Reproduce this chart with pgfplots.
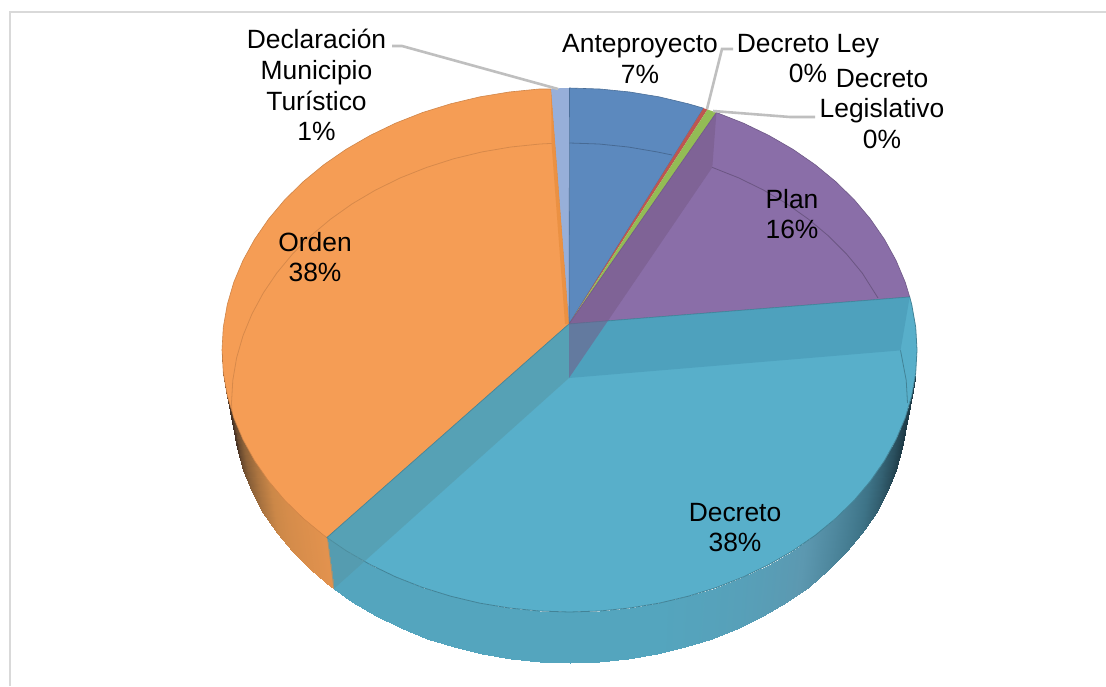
\documentclass[border=0pt]{standalone}
\usepackage{fontspec}
\setmainfont{Liberation Sans}
\usepackage{pgfplots}
\pgfplotsset{compat=1.18}
\definecolor{cAnte}{RGB}{92,137,190}
\definecolor{cRed}{RGB}{190,85,80}
\definecolor{cGreen}{RGB}{147,188,85}
\definecolor{cPlan}{RGB}{138,110,168}
\definecolor{cDecreto}{RGB}{88,175,202}
\definecolor{cOrden}{RGB}{245,157,85}
\definecolor{cDecl}{RGB}{151,175,217}
\definecolor{cLeader}{RGB}{191,191,191}
\definecolor{cFrame}{RGB}{217,217,217}
\pgfplotsset{
  colormap={tealrim}{rgb255=(30,58,70) rgb255=(62,116,136) rgb255=(92,152,176) rgb255=(84,165,190)},
  colormap={orangerim}{rgb255=(58,42,34) rgb255=(138,96,56) rgb255=(204,136,72) rgb255=(226,146,78)},
}
\newcommand{\lab}[3]{\node[align=center,inner sep=0pt,font=\fontsize{13.2}{15.4}\selectfont] at (axis cs:#1,#2) {#3};}
\begin{document}
\begin{tikzpicture}
\begin{axis}[
  scale only axis, width=553pt, height=343pt,
  xmin=0, xmax=1106, ymin=0, ymax=686, y dir=reverse,
  hide axis, no markers, clip=true,
  point meta min=0, point meta max=1,
]
% page background and chart frame
\addplot[draw=none,fill=white] coordinates {(0,0)(1106,0)(1106,686)(0,686)} -- cycle;
\addplot[draw=cFrame,line width=1pt] coordinates {(10,686)(10,12)(1106,12)};

% side wall of the front slice
\addplot[patch,patch type=rectangle,shader=interp,colormap name=tealrim,point meta=explicit,
  table/row sep=\\,
  patch table={0 1 3 2\\2 3 5 4\\4 5 7 6\\6 7 9 8\\8 9 11 10\\10 11 13 12\\12 13 15 14\\14 15 17 16\\16 17 19 18\\18 19 21 20\\20 21 23 22\\22 23 25 24\\24 25 27 26\\26 27 29 28\\28 29 31 30\\30 31 33 32\\32 33 35 34\\34 35 37 36\\36 37 39 38\\38 39 41 40\\40 41 43 42\\42 43 45 44\\44 45 47 46\\46 47 49 48\\48 49 51 50\\50 51 53 52\\}]
table[x=x,y=y,meta=c] {
x y c\\
915.7 372.8 0\\
906.2 425.7 0\\
911.7 395.5 0\\
902.4 448.1 0\\
905.2 417.8 0.04\\
896.0 470.3 0.04\\
896.0 439.6 0.12\\
887.1 491.9 0.12\\
884.4 460.7 0.22\\
875.8 512.9 0.22\\
870.4 481.0 0.32\\
862.2 533.0 0.32\\
854.2 500.3 0.42\\
846.4 552.1 0.42\\
835.7 518.4 0.52\\
828.4 570.1 0.52\\
815.2 535.3 0.62\\
808.5 586.8 0.62\\
792.9 550.7 0.72\\
786.8 602.2 0.72\\
768.8 564.6 0.8\\
763.4 616.0 0.8\\
743.3 576.9 0.87\\
738.5 628.2 0.87\\
716.4 587.5 0.92\\
712.3 638.6 0.92\\
688.3 596.2 0.96\\
685.1 647.3 0.96\\
659.4 603.1 1\\
657.0 654.1 1\\
629.8 608.0 1\\
628.2 659.0 1\\
599.8 611.0 1\\
599.0 662.0 1\\
569.5 612.0 1\\
569.5 663.0 1\\
539.2 611.0 1\\
540.0 662.0 1\\
509.2 608.0 1\\
510.8 659.0 1\\
479.6 603.1 1\\
482.0 654.1 1\\
450.7 596.2 1\\
453.9 647.3 1\\
422.6 587.5 1\\
426.7 638.6 1\\
395.7 576.9 1\\
400.5 628.2 1\\
370.2 564.6 1\\
375.6 616.0 1\\
346.1 550.7 1\\
352.2 602.2 1\\
327.0 537.6 1\\
333.6 589.0 1\\
};

% side wall of the left slice
\addplot[patch,patch type=rectangle,shader=interp,colormap name=orangerim,point meta=explicit,
  table/row sep=\\,
  patch table={0 1 3 2\\2 3 5 4\\4 5 7 6\\6 7 9 8\\8 9 11 10\\10 11 13 12\\12 13 15 14\\14 15 17 16\\16 17 19 18\\18 19 21 20\\}]
table[x=x,y=y,meta=c] {
x y c\\
222.0 350.0 0\\
231.5 403.0 0\\
223.3 372.8 0\\
232.8 425.7 0\\
227.3 395.5 0.05\\
236.6 448.1 0.05\\
233.8 417.8 0.2\\
243.0 470.3 0.2\\
243.0 439.6 0.35\\
251.9 491.9 0.35\\
254.6 460.7 0.5\\
263.2 512.9 0.5\\
268.6 481.0 0.65\\
276.8 533.0 0.65\\
284.8 500.3 0.8\\
292.6 552.1 0.8\\
303.3 518.4 0.9\\
310.6 570.1 0.9\\
323.8 535.3 1\\
330.5 586.8 1\\
327.0 537.6 1\\
333.6 589.0 1\\
};

% top faces of the slices
\addplot[fill=cOrden,draw=cOrden!85!black,line width=0.3pt] coordinates {
(569,324)(327,537.6)(323.8,535.3)(303.3,518.4)(284.8,500.3)(268.6,481)(254.6,460.7)(243,439.6)(233.8,417.8)(227.3,395.5)(223.3,372.8)(222,350)
(223.3,327.2)(227.3,304.5)(233.8,282.2)(243,260.4)(254.6,239.3)(268.6,219)(284.8,199.7)(303.3,181.6)(323.8,164.7)(346.1,149.3)(370.2,135.4)(395.7,123.1)(422.6,112.5)(450.7,103.8)(479.6,96.9)(509.2,92)(539.2,89)(551,89)} -- cycle;
\addplot[fill=cDecl,draw=none] coordinates {(569,324)(551,89)(560,88.2)(569.5,88)} -- cycle;
\addplot[fill=cAnte,draw=cAnte!80!black,line width=0.3pt] coordinates {(569,324)(569.5,88)(599.8,89)(629.8,92)(659.4,96.9)(688.3,103.8)(703.5,108.2)} -- cycle;
\addplot[fill=cRed,draw=none] coordinates {(569,324)(703.5,108.2)(707.5,109.5)} -- cycle;
\addplot[fill=cGreen,draw=none] coordinates {(569,324)(707.5,109.5)(716.4,112.5)} -- cycle;
\addplot[fill=cPlan,draw=cPlan!80!black,line width=0.3pt] coordinates {(569,324)(716.4,112.5)(743.3,123.1)(768.8,135.4)(792.9,149.3)(815.2,164.7)(835.7,181.6)(854.2,199.7)(870.4,219)(884.4,239.3)(896,260.4)(905.2,282.2)(909.7,297)} -- cycle;
\addplot[fill=cDecreto,draw=cDecreto!75!black,line width=0.4pt] coordinates {
(569,324)(909.7,297)(911.7,304.5)(915.7,327.2)(917,350)(915.7,372.8)(911.7,395.5)(905.2,417.8)(896,439.6)(884.4,460.7)(870.4,481)(854.2,500.3)(835.7,518.4)(815.2,535.3)(792.9,550.7)(768.8,564.6)(743.3,576.9)(716.4,587.5)(688.3,596.2)(659.4,603.1)(629.8,608)(599.8,611)(569.5,612)(539.2,611)(509.2,608)(479.6,603.1)(450.7,596.2)(422.6,587.5)(395.7,576.9)(370.2,564.6)(346.1,550.7)(327,537.6)} -- cycle;

% inner walls, seen through the translucent faces
\addplot[fill={rgb,255:red,70;green,150;blue,180},fill opacity=0.55,draw=none] coordinates {(569,324)(909.7,297)(900.5,350.4)(569,378)} -- cycle;
\addplot[fill={rgb,255:red,86;green,150;blue,165},fill opacity=0.55,draw=none] coordinates {(569,324)(327,537.6)(333.6,589)(569,378)} -- cycle;
\addplot[fill={rgb,255:red,118;green,90;blue,136},fill opacity=0.55,draw=none] coordinates {(569,324)(716.4,112.5)(712.3,167.4)(569,378)} -- cycle;
\addplot[fill={rgb,255:red,232;green,140;blue,60},fill opacity=0.7,draw=none] coordinates {(551,89)(569,324)(565,324)(551.5,143.4)} -- cycle;

% far edge of the base, seen through the top
\addplot[draw=black,draw opacity=0.12,line width=0.4pt] coordinates {(232.8,425.7)(231.5,403)(232.8,380.3)(236.6,357.9)(243,335.7)(251.9,314.1)(263.2,293.1)(276.8,273)(292.6,253.9)(310.6,235.9)(330.5,219.2)(352.2,203.8)(375.6,190)(400.5,177.8)(426.7,167.4)(453.9,158.7)(482,151.9)(510.8,147)(540,144)(551.5,143.4)};
\addplot[draw=black,draw opacity=0.22,line width=0.4pt] coordinates {(569.5,143)(599,144)(628.2,147)(657,151.9)(672,155)};
\addplot[draw=black,draw opacity=0.22,line width=0.4pt] coordinates {(712.3,167.4)(738.5,177.8)(763.4,190)(786.8,203.8)(808.5,219.2)(828.4,235.9)(846.4,253.9)(862.2,273)(878,298)};
\addplot[draw=black,draw opacity=0.25,line width=0.4pt] coordinates {(900.5,350.4)(906.2,380.3)(907.5,403)};

% leader lines
\addplot[draw=cLeader,line width=1.3pt] coordinates {(392,46)(402,46)(558,89)};
\addplot[draw=cLeader,line width=1.3pt] coordinates {(733,49)(722,49)(707,109)};
\addplot[draw=cLeader,line width=1.3pt] coordinates {(815,117)(790,117)(713,111)};

% slice labels
\lab{316.5}{85}{Declaración\\Municipio\\Turístico\\1\%}
\lab{640}{59}{Anteproyecto\\7\%}
\lab{808}{58.5}{Decreto Ley\\0\%}
\lab{882}{109}{Decreto\\Legislativo\\0\%}
\lab{792}{214}{Plan\\16\%}
\lab{315}{257}{Orden\\38\%}
\lab{735}{527.5}{Decreto\\38\%}
\end{axis}
\end{tikzpicture}
\end{document}
